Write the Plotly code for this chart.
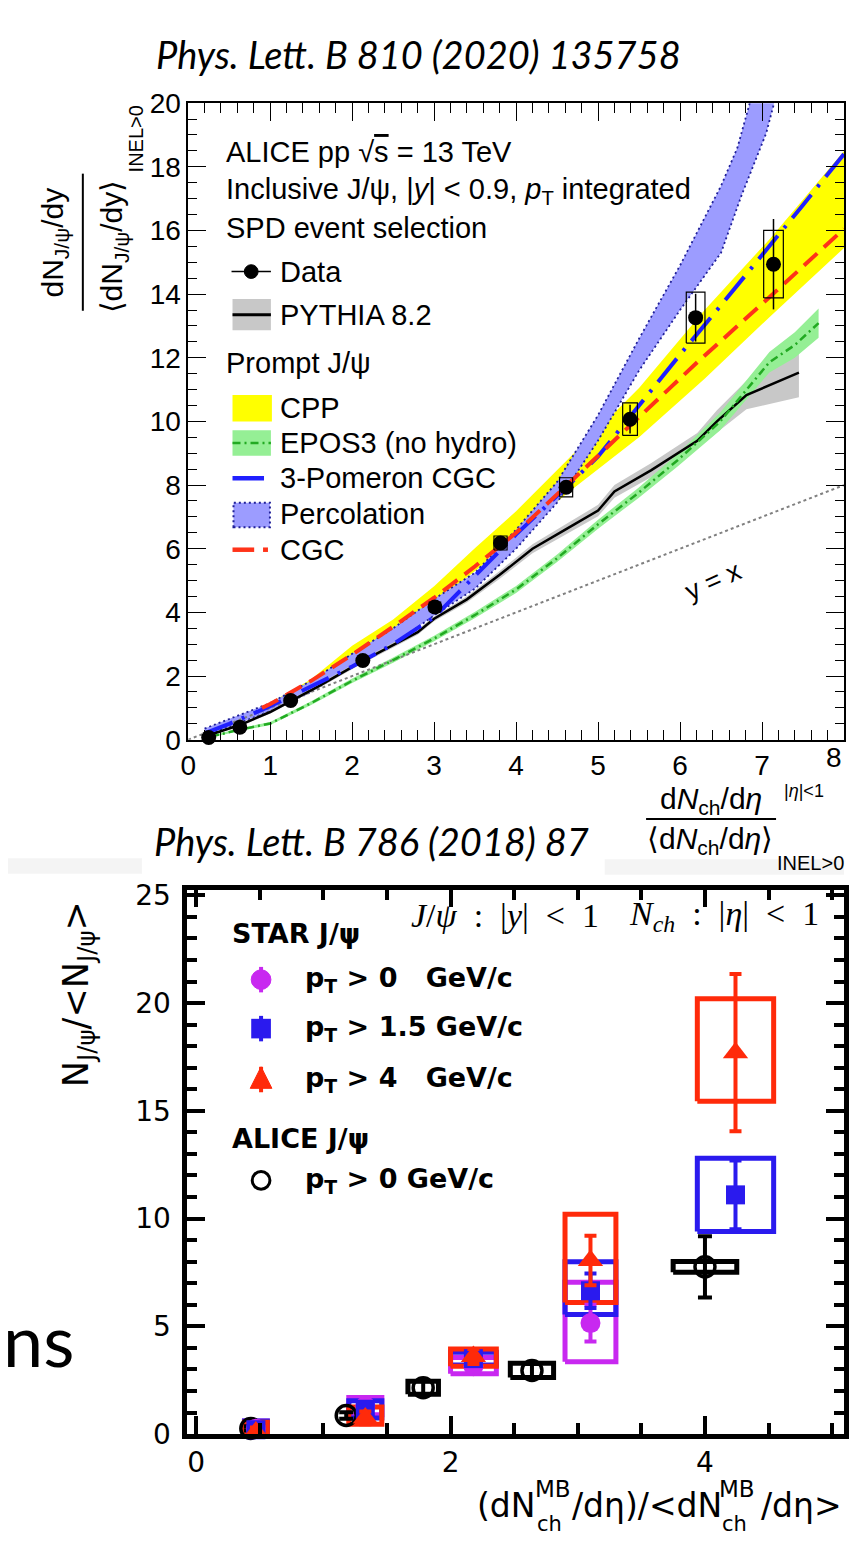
import plotly.graph_objects as go

W, H = 849, 1548
SANS = "Liberation Sans, Arial, sans-serif"
DSANS = "DejaVu Sans, sans-serif"
SERIF = "Liberation Serif, Times New Roman, serif"
HUM = "Lato, Open Sans, sans-serif"

# ================= top panel: PLB 810 (2020) 135758 =================
data_x = [0.25, 0.63, 1.25, 2.13, 3.01, 3.81, 4.61, 5.39, 6.19, 7.14]
data_y = [0.07, 0.39, 1.23, 2.49, 4.17, 6.18, 7.93, 10.07, 13.26, 14.94]
data_stat = [0.01, 0.02, 0.04, 0.06, 0.10, 0.15, 0.20, 0.45, 0.75, 1.42]
data_sys = [0.02, 0.03, 0.06, 0.10, 0.15, 0.22, 0.30, 0.51, 0.80, 1.06]
data_sysw = [0.03, 0.04, 0.05, 0.06, 0.07, 0.08, 0.08, 0.09, 0.114, 0.12]

pythia_x = [0.2, 0.63, 1.0, 1.6, 2.12, 2.8, 3.0, 3.4, 3.8, 4.2, 4.6, 5.0, 5.2, 5.65, 6.21, 6.45, 6.81, 7.1, 7.45]
pythia_y = [0.1, 0.46, 0.87, 1.69, 2.46, 3.38, 3.8, 4.41, 5.18, 6.0, 6.6, 7.2, 7.8, 8.47, 9.39, 10.0, 10.83, 11.15, 11.53]
pythia_err = [0.02, 0.04, 0.05, 0.06, 0.07, 0.08, 0.08, 0.1, 0.12, 0.14, 0.16, 0.18, 0.2, 0.22, 0.25, 0.35, 0.45, 0.6, 0.77]

epos_x = [0.28, 0.6, 1.0, 1.5, 2.0, 2.5, 3.0, 3.5, 4.0, 4.5, 5.0, 5.49, 5.97, 6.49, 7.09, 7.4, 7.69]
epos_y = [0.1, 0.3, 0.51, 1.15, 1.85, 2.5, 3.18, 3.92, 4.72, 5.7, 6.77, 7.75, 8.78, 10.0, 11.86, 12.4, 13.09]
epos_err = [0.03, 0.04, 0.05, 0.06, 0.07, 0.08, 0.09, 0.1, 0.11, 0.12, 0.14, 0.16, 0.2, 0.28, 0.32, 0.4, 0.46]

cpp_x = [1.0, 1.5, 2.0, 2.5, 3.0, 3.5, 4.0, 4.6, 5.5, 6.3, 7.1, 8.0]
cpp_hi = [1.15, 1.9, 2.95, 3.78, 4.82, 6.02, 7.18, 8.72, 11.05, 13.5, 15.75, 18.5]
cpp_lo = [1.05, 1.8, 2.55, 3.4, 4.3, 5.3, 6.3, 7.7, 9.5, 11.34, 13.3, 15.45]

pom_x = [0.2, 0.5, 1.0, 1.5, 2.0, 2.5, 3.0, 3.5, 4.0, 4.6, 5.0, 5.5, 6.0, 6.5, 7.0, 7.5, 8.0]
pom_y = [0.2, 0.5, 1.05, 1.68, 2.3, 3.0, 3.85, 5.15, 6.45, 7.9, 8.9, 10.5, 12.1, 13.65, 15.25, 16.8, 18.4]

cgc_x = [0.9, 1.0, 1.5, 2.0, 2.5, 3.0, 3.5, 4.0, 4.6, 5.37, 6.21, 7.09, 8.0]
cgc_y = [1.0, 1.12, 1.85, 2.67, 3.55, 4.46, 5.45, 6.5, 7.95, 9.8, 11.86, 13.9, 16.05]

perc_up_x = [0.2, 0.5, 1.0, 1.5, 2.0, 2.5, 3.0, 3.5, 4.0, 4.5, 5.0, 5.5, 6.0, 6.5, 6.7, 6.85, 6.95]
perc_up_y = [0.35, 0.65, 1.15, 1.85, 2.7, 3.5, 4.42, 5.25, 6.6, 8.1, 10.2, 12.6, 14.9, 17.4, 18.6, 20.0, 21.0]
perc_lo_x = [0.2, 0.5, 1.0, 1.5, 2.0, 2.5, 3.0, 3.5, 4.0, 4.5, 5.0, 5.5, 6.0, 6.5, 6.75, 7.05, 7.15, 7.25]
perc_lo_y = [0.15, 0.4, 0.9, 1.5, 2.3, 3.0, 3.9, 4.75, 6.0, 7.45, 9.4, 11.6, 13.5, 15.3, 17.1, 19.05, 20.0, 21.0]

yx_x = [0, 8]
yx_y = [0, 8]

# ================= bottom panel: PLB 786 (2018) 87 =================
alice_x = [0.43, 1.18, 1.785, 2.64, 4.0]
alice_y = [0.26, 0.86, 2.15, 2.95, 7.76]
alice_stat = [0.1, 0.15, 0.3, 0.3, 1.42]
alice_sys = [0.0, 0.0, 0.3, 0.33, 0.25]
alice_sysw = [0.0, 0.0, 0.12, 0.17, 0.25]

star_x = [0.47, 1.33, 2.18, 3.10, 4.24]
star_boxw = [0.09, 0.13, 0.18, 0.20, 0.30]

pt0_y = [0.25, 1.3, 3.15, 5.15]
pt0_stat = [0.15, 0.2, 0.25, 0.85]
pt0_lo = [-0.1, 0.9, 2.8, 3.35]
pt0_hi = [0.6, 1.7, 3.55, 7.05]

pt15_y = [0.2, 1.15, 3.5, 6.65, 11.1]
pt15_stat = [0.15, 0.2, 0.3, 0.8, 1.6]
pt15_lo = [-0.2, 0.75, 3.2, 5.55, 9.4]
pt15_hi = [0.6, 1.55, 3.8, 8.0, 12.8]

pt4_y = [0.1, 0.75, 3.6, 8.05, 17.7]
pt4_stat = [0.2, 0.3, 0.35, 1.15, 3.65]
pt4_lo = [-0.45, 0.45, 3.15, 6.1, 15.45]
pt4_hi = [0.55, 1.25, 3.95, 10.2, 20.2]

C_PURPLE = "#c828f0"
C_BLUE = "#2a1aee"
C_RED = "#ff2a0a"


def fx(p):
    return p / W


def fy(p):
    return 1 - p / H


def band(x, lo, hi):
    return list(x) + list(x)[::-1], list(hi) + list(lo)[::-1]


def boxes(xs, lo, hi, hw):
    bx, by = [], []
    for x, l, h, w in zip(xs, lo, hi, hw):
        if w <= 0:
            continue
        bx += [x - w, x + w, x + w, x - w, x - w, None]
        by += [l, l, h, h, l, None]
    return bx, by


fig = go.Figure()
T = dict(xaxis="x", yaxis="y", showlegend=False, hoverinfo="skip")
B = dict(xaxis="x2", yaxis="y2", showlegend=False, hoverinfo="skip")

# ---- top bands
bx, by = band(cpp_x, cpp_lo, cpp_hi)
fig.add_trace(go.Scatter(x=bx, y=by, fill="toself", fillcolor="#ffff00", mode="lines", line=dict(width=0), **T))
px_, py_ = list(perc_up_x) + list(perc_lo_x)[::-1], list(perc_up_y) + list(perc_lo_y)[::-1]
fig.add_trace(go.Scatter(x=px_, y=py_, fill="toself", fillcolor="#9c9cff", mode="lines",
                         line=dict(width=1.8, color="#1f1f99", dash="2px,3px"), **T))
bx, by = band(pythia_x, [a - e for a, e in zip(pythia_y, pythia_err)], [a + e for a, e in zip(pythia_y, pythia_err)])
fig.add_trace(go.Scatter(x=bx, y=by, fill="toself", fillcolor="#c8c8c8", mode="lines", line=dict(width=0), **T))
bx, by = band(epos_x, [a - e for a, e in zip(epos_y, epos_err)], [a + e for a, e in zip(epos_y, epos_err)])
fig.add_trace(go.Scatter(x=bx, y=by, fill="toself", fillcolor="#95ef95", mode="lines", line=dict(width=0), **T))

# ---- top lines
fig.add_trace(go.Scatter(x=yx_x, y=yx_y, mode="lines", line=dict(color="#808080", width=2, dash="3px,3px"), **T))
fig.add_trace(go.Scatter(x=pythia_x, y=pythia_y, mode="lines", line=dict(color="black", width=2.5), **T))
fig.add_trace(go.Scatter(x=epos_x, y=epos_y, mode="lines", line=dict(color="#22aa22", width=2.5, dash="8px,4px,2px,4px"), **T))
fig.add_trace(go.Scatter(x=pom_x, y=pom_y, mode="lines", line=dict(color="#2020ff", width=4, dash="30px,10px,3px,10px"), **T))
fig.add_trace(go.Scatter(x=cgc_x, y=cgc_y, mode="lines", line=dict(color="#ff3319", width=4, dash="18px,9px"), **T))

# ---- top data
bx, by = boxes(data_x, [a - s for a, s in zip(data_y, data_sys)], [a + s for a, s in zip(data_y, data_sys)], data_sysw)
fig.add_trace(go.Scatter(x=bx, y=by, mode="lines", line=dict(color="black", width=1.2), **T))
fig.add_trace(go.Scatter(x=data_x, y=data_y, mode="markers", marker=dict(color="black", size=15),
                         error_y=dict(type="data", array=data_stat, color="black", thickness=1.5, width=0),
                         cliponaxis=False, **T))

# ---- bottom boxes
for ys, lo, hi, col in [(pt0_y, pt0_lo, pt0_hi, C_PURPLE), (pt15_y, pt15_lo, pt15_hi, C_BLUE),
                        (pt4_y, pt4_lo, pt4_hi, C_RED)]:
    n = len(ys)
    bx, by = boxes(star_x[:n], lo, hi, star_boxw[:n])
    fig.add_trace(go.Scatter(x=bx, y=by, mode="lines", line=dict(color=col, width=5), **B))
bx, by = boxes(alice_x, [a - s for a, s in zip(alice_y, alice_sys)], [a + s for a, s in zip(alice_y, alice_sys)], alice_sysw)
fig.add_trace(go.Scatter(x=bx, y=by, mode="lines", line=dict(color="black", width=5), **B))

fig.add_trace(go.Scatter(x=alice_x, y=alice_y, mode="markers",
                         marker=dict(symbol="circle-open", size=20, color="black", line=dict(width=3.5, color="black")),
                         error_y=dict(type="data", array=alice_stat, color="black", thickness=4, width=7),
                         cliponaxis=False, **B))
fig.add_trace(go.Scatter(x=star_x[:len(pt0_y)], y=pt0_y, mode="markers",
                         marker=dict(symbol="circle", size=20, color=C_PURPLE),
                         error_y=dict(type="data", array=pt0_stat, color=C_PURPLE, thickness=4, width=6),
                         cliponaxis=False, **B))
fig.add_trace(go.Scatter(x=star_x, y=pt15_y, mode="markers",
                         marker=dict(symbol="square", size=19, color=C_BLUE),
                         error_y=dict(type="data", array=pt15_stat, color=C_BLUE, thickness=4, width=6),
                         cliponaxis=False, **B))
fig.add_trace(go.Scatter(x=star_x, y=pt4_y, mode="markers",
                         marker=dict(symbol="triangle-up", size=22, color=C_RED),
                         error_y=dict(type="data", array=pt4_stat, color=C_RED, thickness=4, width=6),
                         cliponaxis=False, **B))

# ================= shapes (legend symbols, fraction bars) =================
shapes = []


def rect(x0, y0, x1, y1, fill, lc=None, lw=0, dash="solid", layer="above"):
    shapes.append(dict(type="rect", xref="paper", yref="paper", x0=fx(x0), x1=fx(x1), y0=fy(y1), y1=fy(y0),
                       fillcolor=fill, line=dict(color=lc or fill, width=lw, dash=dash), layer=layer))


def seg(x0, y0, x1, y1, color, width, dash="solid"):
    shapes.append(dict(type="line", xref="paper", yref="paper", x0=fx(x0), x1=fx(x1), y0=fy(y0), y1=fy(y1),
                       line=dict(color=color, width=width, dash=dash)))


def circ(cx, cy, r, fill, lc, lw):
    shapes.append(dict(type="circle", xref="paper", yref="paper", x0=fx(cx - r), x1=fx(cx + r),
                       y0=fy(cy + r), y1=fy(cy - r), fillcolor=fill, line=dict(color=lc, width=lw)))


# faint screenshot strips
rect(0, 861, 136, 877, "#f4f4f4", layer="below")
rect(606, 862, 849, 878, "#f4f4f4", layer="below")

# top legend symbols
seg(227, 262, 267, 262, "black", 1.5)
circ(247, 262, 7, "black", "black", 1)
rect(228, 290, 267, 322, "#c8c8c8")
seg(228, 306, 267, 306, "black", 3)
rect(228, 388, 268, 415, "#ffff00")
rect(228, 424, 267, 450, "#95ef95")
seg(228, 437, 267, 437, "#22aa22", 2.5, "8px,4px,2px,4px")
seg(228, 473, 260, 473, "#2020ff", 4.5)
rect(229, 498, 266, 523, "#9c9cff", "#1f1f99", 2, "2px,3px")
seg(228, 546, 250, 546, "#ff3319", 4.5)
seg(259, 546, 264, 546, "#ff3319", 4.5)

# axis-title fraction bars
seg(76, 162, 76, 302, "black", 2)
seg(648, 821, 780, 821, "black", 2)

# bottom legend symbols
seg(257, 972, 257, 998, C_PURPLE, 4)
circ(257, 985, 10, C_PURPLE, C_PURPLE, 1)
seg(257, 1022, 257, 1048, C_BLUE, 4)
rect(247, 1025, 267, 1045, C_BLUE)
seg(257, 1074, 257, 1100, C_RED, 4)
shapes.append(dict(type="path", xref="paper", yref="paper",
                   path=f"M {fx(257)} {fy(1074)} L {fx(268)} {fy(1096)} L {fx(246)} {fy(1096)} Z",
                   fillcolor=C_RED, line=dict(color=C_RED, width=1)))
circ(257, 1190, 9, "rgba(0,0,0,0)", "black", 3)

# ================= annotations =================
ann = []


def text(t, x, y, size, family=SANS, xa="left", ya="middle", angle=0, color="black"):
    ann.append(dict(text=t, x=fx(x), y=fy(y), xref="paper", yref="paper", showarrow=False,
                    xanchor=xa, yanchor=ya, textangle=angle,
                    font=dict(size=size, family=family, color=color)))


text("<i>Phys. Lett. B 810 (2020) 135758</i>", 417, 40, 38, HUM, xa="center")
text("<i>Phys. Lett. B 786 (2018) 87</i>", 369, 843, 38, HUM, xa="center")
text("ns", -7, 1352, 72, HUM, xa="left")

# top legend
text("ALICE pp √<span style='text-decoration:overline'>s</span> = 13 TeV", 219, 140, 29)
text("Inclusive J/ψ, |<i>y</i>| < 0.9, <i>p</i><sub>T</sub> integrated", 219, 180, 29)
text("SPD event selection", 219, 218, 29)
text("Data", 274, 262, 29)
text("PYTHIA 8.2", 274, 306, 29)
text("Prompt J/ψ", 219, 355, 29)
text("CPP", 274, 401, 29)
text("EPOS3 (no hydro)", 274, 437, 29)
text("3-Pomeron CGC", 274, 473, 29)
text("Percolation", 274, 510, 29)
text("CGC", 274, 546, 29)

# top axis titles
text("dN<sub>J/ψ</sub>/dy", 47, 232, 30, xa="center", angle=-90)
text("⟨dN<sub>J/ψ</sub>/dy⟩", 107, 236, 30, xa="center", angle=-90)
text("INEL>0", 130, 127, 20, xa="center", angle=-90)
text("d<i>N</i><sub>ch</sub>/d<i>η</i>", 714, 802, 30, xa="center")
text("⟨d<i>N</i><sub>ch</sub>/d<i>η</i>⟩", 713, 843, 30, xa="center")
text("|<i>η</i>|<1", 808, 792, 18, xa="center")
text("INEL>0", 815, 866, 20, xa="center")
text("8", 849, 758, 28, xa="right")
ann.append(dict(text="y = x", x=6.4, y=5.0, xref="x", yref="y", showarrow=False, textangle=-24,
                font=dict(size=27, family=SANS, color="black")))

# bottom header and legend
text("<i>J</i>/<i>ψ</i>\u2002:\u2002|<i>y</i>|\u2002<\u20021", 407, 920, 34, SERIF)
text("<i>N<sub>ch</sub></i>\u2002:\u2002|<i>η</i>|\u2002<\u20021", 629, 920, 34, SERIF)
text("<b>STAR J/ψ</b>", 225, 938, 27, DSANS)
text("<b>p<sub>T</sub> > 0\u00a0\u00a0\u00a0GeV/c</b>", 300, 985, 27, DSANS)
text("<b>p<sub>T</sub> > 1.5 GeV/c</b>", 300, 1035, 27, DSANS)
text("<b>p<sub>T</sub> > 4\u00a0\u00a0\u00a0GeV/c</b>", 300, 1087, 27, DSANS)
text("<b>ALICE J/ψ</b>", 225, 1147, 27, DSANS)
text("<b>p<sub>T</sub> > 0 GeV/c</b>", 300, 1190, 27, DSANS)

# bottom axis titles
text("N<sub>J/ψ</sub>/&lt;N<sub>J/ψ</sub>&gt;", 71, 1000, 35, DSANS, xa="center", angle=-90)
text("(dN", 474, 1522, 33, DSANS)
text("MB", 533, 1505, 23, DSANS)
text("ch", 535, 1541, 21, DSANS)
text("/dη)/&lt;dN", 571, 1522, 33, DSANS)
text("MB", 720, 1505, 23, DSANS)
text("ch", 723, 1541, 21, DSANS)
text("/dη&gt;", 763, 1522, 33, DSANS)

# ================= axes =================
top_common = dict(showgrid=False, zeroline=False, showline=True, linecolor="black", linewidth=1.5,
                  mirror="ticks", ticks="inside", tickcolor="black", tickwidth=1.3, ticklen=18,
                  tickfont=dict(family=SANS, size=28, color="black"))
bot_common = dict(showgrid=False, zeroline=False, showline=True, linecolor="black", linewidth=4.5,
                  mirror="ticks", ticks="inside", tickcolor="black", tickwidth=4, ticklen=18,
                  tickfont=dict(family=DSANS, size=28, color="black"))

fig.update_layout(
    width=W, height=H, autosize=False,
    margin=dict(l=0, r=0, t=0, b=0),
    paper_bgcolor="white", plot_bgcolor="rgba(0,0,0,0)",
    showlegend=False,
    xaxis=dict(domain=[fx(183), 1], range=[0, 8], anchor="y", dtick=1, tick0=0,
               minor=dict(dtick=0.2, ticklen=10, tickwidth=1.1, ticks="inside", tickcolor="black"), **top_common),
    yaxis=dict(domain=[fy(740), fy(90)], range=[0, 20], anchor="x", dtick=2, tick0=0,
               minor=dict(dtick=0.5, ticklen=9, tickwidth=1.1, ticks="inside", tickcolor="black"), **top_common),
    xaxis2=dict(domain=[fx(182), 1], range=[-0.07, 5.093], anchor="y2", dtick=2, tick0=0,
                minor=dict(dtick=0.5, ticklen=11, tickwidth=4, ticks="inside", tickcolor="black"), **bot_common),
    yaxis2=dict(domain=[fy(1449), fy(893)], range=[0, 25.27], anchor="x2", dtick=5, tick0=0,
                ticklabelstandoff=6,
                minor=dict(dtick=1, ticklen=10, tickwidth=4, ticks="inside", tickcolor="black"), **bot_common),
    shapes=shapes,
    annotations=ann,
)

fig.write_html("out.html")
